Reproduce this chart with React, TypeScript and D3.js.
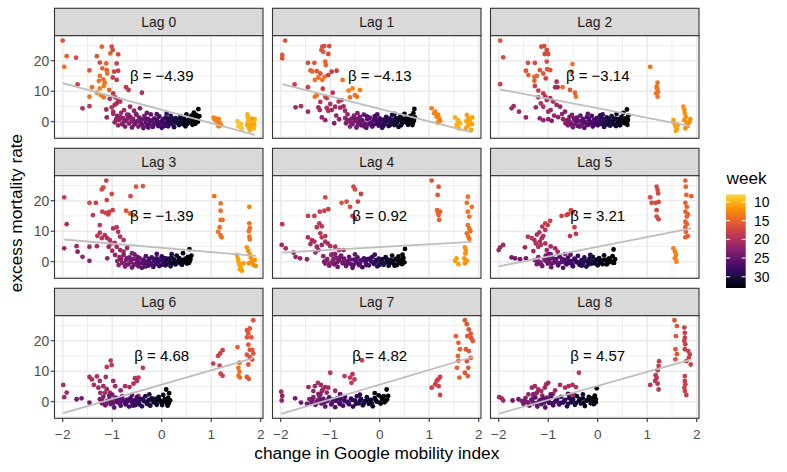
import React from "react";
import * as d3 from "d3";

// [mobility change, excess mortality rate, week]
const lag0 = [
  [-2.0,26.6,16],[-1.92,21.5,15],[-1.97,18.0,14],[-1.73,21.0,17],[-1.7,12.2,18],[-1.46,16.8,16],[-1.46,8.2,14],[-1.6,4.4,20],[-1.46,5.1,19],[-1.41,11.3,14],[-1.31,21.5,16],[-1.25,19.4,17],[-1.21,24.6,15],[-1.01,24.6,17],[-0.99,23.5,17],[-1.04,22.4,15],[-1.12,19.1,15],[-1.11,16.9,15],[-1.1,15.8,14],[-1.25,15.0,14],[-1.27,13.4,14],[-1.18,13.9,14],[-1.25,10.9,13],[-1.17,11.7,13],[-1.31,9.5,13],[-1.23,8.7,13],[-1.17,8.0,14],[-0.88,22.1,17],[-0.91,19.1,18],[-0.96,16.4,18],[-0.88,16.7,18],[-0.99,14.5,18],[-0.91,13.7,19],[-1.06,10.4,15],[-0.98,9.3,19],[-0.94,8.0,20],[-0.88,7.3,20],[-0.84,6.6,20],[-0.91,6.0,21],[-0.72,11.3,19],[-0.67,10.4,19],[-0.4,9.5,20],[-1.12,4.0,21],[-1.01,4.7,20],[-0.98,3.3,20],[-1.11,1.4,22],[-0.92,0.8,22],[-0.84,1.1,22],[-0.57,0.3,13],[-0.76,3.8,21],[-0.64,4.9,21],[-0.56,3.6,22],[-0.67,2.2,23],[-0.51,2.2,22],[-0.44,4.4,23],[-1.05,7.5,20],[-0.95,5.5,20],[-1.15,12.8,14],[-1.2,17.5,15],
  [-0.98,2.6,21],[-0.95,-0.2,22],[-0.9,1.9,22],[-0.86,0.5,22],[-0.82,2.9,21],[-0.8,-0.8,23],[-0.78,1.2,22],[-0.74,-1.6,23],[-0.72,0.4,23],[-0.7,2.3,22],[-0.66,-0.6,23],[-0.63,1.5,23],[-0.6,-1.9,24],[-0.58,0.9,23],[-0.55,-0.9,24],[-0.52,2.6,23],[-0.5,0.1,24],[-0.47,-1.6,24],[-0.45,1.3,24],[-0.42,-0.5,25],[-0.4,0.7,25],[-0.37,-2.1,25],[-0.35,1.9,24],[-0.32,-0.3,25],[-0.3,-1.3,25],[-0.28,0.9,26],[-0.25,-0.8,26],[-0.22,2.4,25],[-0.2,0.2,26],[-0.18,-1.7,26],[-0.15,1.1,26],[-0.12,-0.5,27],[-0.1,0.6,27],[-0.07,-1.4,27],[-0.05,1.7,27],[-0.02,-0.2,28],[0,-2,28],[0.03,0.8,28],[0.05,-0.9,28],[0.08,1.4,28],[0.1,-0.3,29],[0.13,-1.5,29],[0.15,0.5,29],[0.18,1.9,29],[0.2,-0.7,30],[0.23,0.2,30],[0.25,-1.8,30],[0.28,1.2,30],[0.3,-0.4,30],[0.33,0.7,31],[0.35,-1.1,31],[0.38,1.8,31],[0.4,0.1,31],[0.43,-0.8,31],[0.45,1.0,32],[0.48,-1.5,32],[0.5,2.4,32],[0.52,0.4,32],[0.55,-0.3,32],[0.58,1.4,32],[0.6,0.6,33],[0.62,-1.0,32],[0.65,3.0,33],[0.67,1.1,33],[0.7,-0.2,33],[0.72,0.9,33],[0.74,4.1,33],[0.76,1.8,33],[0.7,2.2,33],[0.6,2.0,33],
  [-0.88,-1.2,22],[-0.84,1.6,22],[-0.76,0.0,23],[-0.69,1.0,23],[-0.61,0.1,23],[-0.53,-0.4,24],[-0.46,0.3,24],[-0.39,-1.0,25],[-0.33,0.8,25],[-0.27,-1.9,26],[-0.23,0.4,26],[-0.16,-1.0,26],[-0.09,0.2,27],[-0.04,-0.9,27],[0.01,0.3,28],[0.06,-1.4,28],[0.11,0.9,29],[0.16,-0.6,29],[0.21,1.1,30],[0.26,-0.2,30],[0.31,0.3,30],[0.36,-0.5,31],[0.41,1.0,31],[0.46,-0.2,32],[0.51,-0.8,32],[0.56,0.8,32],[0.63,0.2,33],[0.68,-0.7,33],[0.73,0.0,33],[0.66,1.9,33],[-0.3,2.9,24],[-0.1,2.5,26],[0.1,2.7,28],
  [1.05,1.3,13],[1.1,1.0,13],[1.15,0.9,13],[1.12,0.0,13],[1.18,-0.5,13],[1.2,-1.2,13],[1.15,-1.5,13],[1.08,0.5,13],[1.53,0.2,9],[1.56,-0.5,9],[1.58,-1.2,9],[1.6,-1.8,9],[1.62,-2.4,9],[1.55,-1.5,9],[1.6,-0.8,9],[1.73,2.4,10],[1.74,1.5,10],[1.75,0.6,10],[1.74,-0.3,10],[1.73,-1.2,11],[1.76,-2.0,10],[1.78,-2.8,10],[1.8,-1.5,11],[1.83,-0.5,11],[1.85,0.3,10],[1.87,-1.0,11],[1.88,0.8,10],[1.82,1.0,11],[1.86,-2.2,10],
];

const lag1 = [
  [-1.91,26.6,16],[-1.97,21.9,16],[-1.97,20.8,16],[-1.72,12.2,18],[-1.45,19.3,17],[-1.32,19.3,16],[-1.45,11.3,18],[-1.4,16.8,15],[-1.36,16.5,15],[-1.27,16.6,16],[-1.2,15.8,16],[-1.16,24.6,17],[-1.12,24.8,17],[-1.18,23.5,16],[-1.14,22.9,16],[-1.02,24.8,17],[-1.04,22.2,17],[-1.1,19.7,15],[-1.09,18.6,15],[-1.31,13.7,14],[-1.24,14.5,14],[-1.16,13.7,14],[-1.11,14.8,14],[-1.04,15.3,18],[-0.97,16.4,18],[-0.87,16.7,18],[-1.27,8.7,14],[-1.1,8.2,18],[-1.07,7.7,18],[-1.31,8.2,14],[-0.83,6.6,19],[-0.77,7.1,19],[-0.75,13.7,14],[-0.63,10.2,13],[-0.55,10.9,13],[-0.5,8.7,14],[-0.4,10.4,13],[-0.6,8.0,14],[-0.46,8.2,14],[-1.7,4.7,21],[-1.59,5.1,20],[-1.45,3.3,21],[-1.24,4.7,21],[-1.21,3.8,21],[-1.07,4.5,20],[-1.04,3.6,20],[-1.0,5.8,20],[-1.17,1.4,22],[-1.1,0.5,22],[-0.97,3.8,21],[-0.9,4.9,21],[-0.8,4.6,21],[-0.73,5.0,21],[-0.7,3.6,21],[-1.2,6.5,19],[-1.15,10.8,18],[-0.95,9.5,19],[-0.88,2.0,22],[-0.82,0.8,22],[-0.92,-0.5,23],
  [-0.7,1.2,22],[-0.68,-0.5,23],[-0.65,2.4,22],[-0.62,0.3,23],[-0.6,-1.6,23],[-0.57,1.0,23],[-0.55,-0.8,24],[-0.52,2.0,23],[-0.5,0.2,24],[-0.47,-1.9,24],[-0.45,0.9,24],[-0.42,-0.4,25],[-0.4,1.6,24],[-0.37,-1.2,25],[-0.35,0.4,25],[-0.32,2.3,25],[-0.3,-0.6,25],[-0.27,-2.0,26],[-0.25,0.8,26],[-0.22,-0.9,26],[-0.2,1.3,26],[-0.17,-0.2,26],[-0.15,-1.6,27],[-0.12,0.6,27],[-0.1,1.8,27],[-0.07,-0.7,27],[-0.05,0.2,28],[-0.02,-1.3,28],[0,1.1,28],[0.03,-0.3,28],[0.05,-2.0,28],[0.08,0.7,29],[0.1,-0.9,29],[0.13,1.6,29],[0.15,0.1,29],[0.18,-1.4,30],[0.2,0.9,30],[0.23,-0.5,30],[0.25,2.2,30],[0.28,0.3,30],[0.3,-1.1,31],[0.33,1.2,31],[0.35,-0.2,31],[0.38,-1.7,31],[0.4,0.6,31],[0.42,1.9,32],[0.45,-0.6,32],[0.48,0.9,32],[0.5,2.6,32],[0.52,-0.1,32],[0.55,1.3,33],[0.57,-1.0,33],[0.6,0.4,33],[0.62,1.9,33],[0.65,0.8,33],[0.67,-0.4,33],[0.7,4.2,33],[0.68,2.8,33],[0.71,1.4,33],
  [-0.66,0.6,23],[-0.58,-0.3,23],[-0.51,1.2,24],[-0.44,-1.0,24],[-0.38,0.3,25],[-0.31,-1.6,25],[-0.26,1.7,26],[-0.19,-0.5,26],[-0.13,-1.1,27],[-0.08,0.8,27],[-0.03,-0.3,28],[0.02,0.5,28],[0.07,-1.4,29],[0.12,0.0,29],[0.17,1.0,30],[0.22,-1.0,30],[0.27,0.6,30],[0.32,-0.5,31],[0.37,0.9,31],[0.43,-1.2,32],[0.47,0.2,32],[0.53,0.8,32],[0.58,-0.4,33],[0.63,0.9,33],[0.66,-1.1,33],[0.69,0.3,33],[-0.45,2.8,23],[-0.05,2.4,27],[0.3,2.6,30],
  [1.05,4.4,13],[1.12,3.3,13],[1.18,2.2,13],[1.2,1.1,13],[1.22,0.3,13],[1.17,-0.3,13],[1.15,1.6,13],[1.1,2.8,13],[1.52,1.4,10],[1.58,0.5,10],[1.56,-0.8,10],[1.6,-2.2,10],[1.62,-0.5,10],[1.55,-1.6,10],[1.76,2.2,11],[1.79,1.1,11],[1.8,0,11],[1.78,-1.4,11],[1.85,-2.7,11],[1.86,-0.8,11],[1.74,-2.2,11],[1.87,1.4,11],[1.82,0.5,11],[1.75,0.2,11],
];

const lag2 = [
  [-1.97,26.6,16],[-1.91,21.1,17],[-1.97,12.3,18],[-1.7,5.1,21],[-1.74,4.4,21],[-1.59,3.3,21],[-1.45,1.4,22],[-1.41,19.3,17],[-1.27,19.3,17],[-1.45,16.7,16],[-1.4,15.3,15],[-1.28,14.7,15],[-1.14,24.6,17],[-1.08,24.8,17],[-1.03,23.5,17],[-1.07,22.2,17],[-1.0,22.2,17],[-1.03,19.7,17],[-1.17,16.9,16],[-1.1,15.8,16],[-1.02,17.2,16],[-0.96,16.9,16],[-1.28,13.4,15],[-1.23,15.0,15],[-1.05,14.2,18],[-1.27,11.7,18],[-1.2,10.2,18],[-1.1,9.3,19],[-1.06,8.2,20],[-1.03,7.1,20],[-0.96,7.7,20],[-0.9,6.6,20],[-0.83,5.5,21],[-1.25,4.7,21],[-1.1,4.9,20],[-1.0,3.3,21],[-1.17,1.1,22],[-1.1,0.5,22],[-1.0,0.8,22],[-0.93,0.3,23],[-0.86,11.3,21],[-0.81,11.3,21],[-0.83,13.1,20],[-0.71,11.3,14],[-0.51,18.9,14],[-0.53,16.4,14],[-0.44,8.2,14],[-0.56,10.4,16],[-0.46,9.5,15],[-0.76,4.9,21],[-0.66,3.3,23],[-1.15,6.0,20],[-0.95,3.8,21],[-0.88,2.0,22],[-0.8,1.5,22],[-0.72,2.5,22],[-1.2,8.0,19],
  [-0.62,0.5,23],[-0.6,-1.2,23],[-0.57,1.6,23],[-0.55,-0.3,24],[-0.52,2.2,23],[-0.5,-1.8,24],[-0.47,0.6,24],[-0.45,-0.7,24],[-0.42,1.3,25],[-0.4,-1.4,25],[-0.37,0.2,25],[-0.35,2.0,25],[-0.32,-0.9,25],[-0.3,0.9,26],[-0.27,-2.0,26],[-0.25,-0.2,26],[-0.22,1.5,26],[-0.2,-1.1,26],[-0.17,0.4,27],[-0.15,-0.6,27],[-0.12,1.9,27],[-0.1,-1.6,27],[-0.07,0.7,27],[-0.05,-0.4,28],[-0.02,1.2,28],[0,-1.2,28],[0.03,0.1,28],[0.05,2.1,28],[0.08,-0.8,29],[0.1,0.8,29],[0.13,-1.7,29],[0.15,-0.1,29],[0.18,1.4,30],[0.2,-0.6,30],[0.23,0.5,30],[0.25,-1.3,30],[0.28,1.8,30],[0.3,0.2,31],[0.33,-0.9,31],[0.35,1.0,31],[0.38,2.5,31],[0.4,-0.3,31],[0.42,0.8,32],[0.45,-1.2,32],[0.48,1.6,32],[0.5,0.3,32],[0.52,2.9,32],[0.55,-0.5,33],[0.57,1.1,33],[0.6,0.2,33],[0.59,4.0,33],[0.62,2.0,33],[0.6,-1.0,33],
  [-0.58,0.2,23],[-0.53,-0.9,24],[-0.48,1.1,24],[-0.41,0.1,25],[-0.36,-1.6,25],[-0.29,0.3,26],[-0.23,-0.7,26],[-0.18,1.0,27],[-0.13,-0.2,27],[-0.08,-1.1,27],[-0.03,0.3,28],[0.02,-0.5,28],[0.07,1.3,29],[0.12,0.3,29],[0.17,-1.0,30],[0.22,0.9,30],[0.27,-0.4,30],[0.32,0.6,31],[0.37,-1.4,31],[0.43,0.2,32],[0.47,-0.5,32],[0.53,1.0,32],[0.58,-0.3,33],[0.61,0.7,33],[-0.2,2.6,25],[0.1,2.4,28],[-0.65,-0.5,23],[-0.7,0.8,22],
  [1.06,18.0,14],[1.21,12.8,14],[1.2,10.9,14],[1.18,9.3,14],[1.21,8.2,14],[1.22,9.8,14],[1.19,11.5,14],[1.53,0.5,11],[1.55,-0.6,11],[1.57,-1.5,11],[1.6,-2.4,11],[1.62,-1.0,11],[1.58,-3.0,11],[1.73,4.9,12],[1.75,3.8,12],[1.76,2.7,12],[1.78,1.6,12],[1.75,0.5,12],[1.8,-0.5,12],[1.82,-1.4,12],[1.85,-0.2,12],[1.87,0.8,12],[1.77,-2.2,12],
];

const lag3 = [
  [-1.97,21.1,18],[-1.92,12.3,20],[-1.97,4.4,21],[-1.72,5.1,21],[-1.7,3.3,23],[-1.6,1.6,22],[-1.46,0.3,23],[-1.46,19.3,17],[-1.33,19.3,18],[-1.39,15.3,19],[-1.46,4.9,21],[-1.31,5.1,21],[-1.25,9.5,19],[-1.21,7.7,19],[-1.21,23.7,17],[-1.18,24.4,17],[-1.12,26.6,18],[-1.11,20.2,18],[-1.01,22.2,17],[-1.2,16.4,18],[-1.13,16.0,18],[-1.06,16.3,18],[-0.99,16.9,18],[-1.08,15.5,18],[-0.98,10.9,20],[-0.91,11.3,19],[-1.25,12.0,19],[-1.15,8.7,20],[-1.1,7.7,20],[-1.05,7.1,20],[-1.02,6.0,20],[-1.07,4.9,21],[-0.88,9.8,20],[-0.84,8.2,20],[-0.77,7.1,20],[-1.0,3.6,21],[-0.94,2.2,22],[-1.1,1.1,22],[-0.72,16.7,16],[-0.63,21.5,17],[-0.52,24.6,16],[-0.38,24.8,16],[-0.64,15.8,15],[-0.57,15.3,15],[-0.91,4.9,21],[-0.84,3.8,21],[-0.77,3.3,21],[-0.7,4.5,21],[-1.3,8.5,19],[-0.95,6.2,20],[-0.82,1.0,22],
  [-0.9,0.2,22],[-0.87,-1.1,23],[-0.85,1.5,22],[-0.8,-0.4,23],[-0.77,2.2,23],[-0.74,-1.6,23],[-0.72,0.6,23],[-0.68,-0.9,24],[-0.65,1.4,24],[-0.62,-0.2,24],[-0.6,-1.9,24],[-0.57,0.9,24],[-0.55,2.4,24],[-0.52,-0.7,25],[-0.5,0.4,25],[-0.47,-1.5,25],[-0.45,1.2,25],[-0.42,-0.3,25],[-0.4,-2.0,26],[-0.37,0.7,26],[-0.35,-0.9,26],[-0.32,1.8,26],[-0.3,0.0,26],[-0.27,-1.3,27],[-0.25,0.9,27],[-0.22,-0.5,27],[-0.2,1.4,27],[-0.17,-1.7,27],[-0.15,0.3,28],[-0.12,-0.8,28],[-0.1,1.1,28],[-0.07,-0.1,28],[-0.05,-1.4,28],[-0.02,0.6,29],[0,1.7,29],[0.03,-0.6,29],[0.05,0.2,29],[0.08,-1.2,30],[0.1,1.0,30],[0.13,-0.3,30],[0.15,0.5,30],[0.18,-1.5,30],[0.2,1.5,31],[0.23,-0.2,31],[0.25,0.7,31],[0.28,-0.9,31],[0.3,2.0,31],[0.33,0.1,32],[0.35,1.2,32],[0.38,-0.6,32],[0.4,0.6,32],[0.43,2.8,32],[0.45,-0.1,33],[0.48,1.0,33],[0.5,0.3,33],[0.53,1.6,33],[0.55,-0.4,33],[0.56,4.1,33],[0.58,0.9,33],[0.6,2.0,33],
  [-0.83,0.7,23],[-0.76,-0.6,23],[-0.7,1.2,24],[-0.63,0.4,24],[-0.56,-1.0,24],[-0.49,1.6,25],[-0.44,-0.6,25],[-0.38,0.2,26],[-0.33,-1.6,26],[-0.26,0.5,27],[-0.21,-0.9,27],[-0.16,0.9,27],[-0.11,0.0,28],[-0.04,0.6,28],[0.01,-1.0,29],[0.06,1.2,29],[0.11,-0.6,30],[0.16,1.0,30],[0.21,-0.6,31],[0.26,0.2,31],[0.31,-0.3,31],[0.36,0.5,32],[0.41,-1.0,32],[0.46,0.7,33],[0.51,-0.6,33],[0.57,0.3,33],[-0.6,2.8,23],[-0.1,2.6,27],[0.2,2.5,29],
  [1.06,21.5,14],[1.19,19.1,14],[1.19,16.7,14],[1.19,13.7,14],[1.23,13.7,14],[1.17,11.3,14],[1.19,8.7,14],[1.21,8.0,14],[1.14,9.8,14],[1.77,18.0,13],[1.77,12.6,14],[1.78,11.0,14],[1.76,10.0,14],[1.77,8.2,14],[1.78,7.3,14],[1.52,2.2,11],[1.54,1.0,11],[1.55,0,11],[1.57,-1.0,11],[1.6,-2.0,11],[1.62,-3.0,11],[1.65,-0.5,11],[1.58,-2.5,11],[1.72,4.7,12],[1.75,3.5,12],[1.78,2.4,12],[1.8,1.2,12],[1.82,0.0,12],[1.85,-1.0,12],[1.88,0.6,12],[1.9,-1.4,12],[1.76,-0.5,12],
];

const lag4 = [
  [-1.97,12.3,19],[-1.98,5.5,21],[-1.9,4.4,21],[-1.74,3.0,23],[-1.7,1.6,22],[-1.61,1.1,22],[-1.47,0.8,22],[-1.45,15.0,18],[-1.32,15.0,18],[-1.21,16.4,18],[-1.12,16.7,18],[-1.04,17.2,18],[-1.1,21.1,17],[-1.27,11.3,19],[-1.22,12.6,19],[-1.17,11.6,19],[-1.45,8.0,20],[-1.37,7.1,20],[-1.32,6.6,20],[-1.2,9.3,19],[-1.17,8.0,19],[-1.1,8.4,19],[-1.27,4.9,21],[-1.24,3.8,21],[-1.17,5.5,21],[-1.1,6.6,20],[-1.05,6.0,20],[-1.0,5.1,20],[-1.12,0,24],[-0.77,19.3,16],[-0.67,19.7,17],[-0.6,18.0,17],[-0.53,24.6,17],[-0.5,23.7,17],[-0.38,22.2,18],[-0.44,19.7,18],[-0.55,15.0,18],[-0.5,14.2,18],[-0.9,4.9,20],[-0.82,3.8,20],[-0.73,3.8,21],[-1.3,3.0,21],[-0.95,2.5,22],[-1.4,5.8,20],
  [-1.14,1.8,22],[-1.1,-0.6,23],[-1.06,0.8,23],[-1.02,-1.3,23],[-0.98,2.2,22],[-0.95,0.2,23],[-0.92,-0.9,24],[-0.88,1.3,23],[-0.85,-1.7,24],[-0.82,0.5,24],[-0.78,2.0,24],[-0.75,-0.5,24],[-0.72,1.0,25],[-0.68,-1.4,25],[-0.65,0.1,25],[-0.62,1.6,25],[-0.58,-0.8,25],[-0.55,-2.0,26],[-0.52,0.7,26],[-0.48,-0.3,26],[-0.45,1.4,26],[-0.42,-1.1,26],[-0.38,0.4,27],[-0.35,-1.8,27],[-0.32,1.1,27],[-0.28,-0.4,27],[-0.25,0.8,28],[-0.22,-1.2,28],[-0.18,0.2,28],[-0.15,1.6,28],[-0.12,-0.7,29],[-0.08,0.5,29],[-0.05,-1.5,29],[-0.02,1.0,29],[0.02,-0.2,30],[0.05,0.8,30],[0.08,-1.0,30],[0.12,1.5,31],[0.15,0.0,31],[0.18,-1.3,31],[0.22,0.6,31],[0.25,2.0,32],[0.28,-0.5,32],[0.32,0.9,32],[0.35,-1.1,32],[0.38,1.7,33],[0.42,0.3,33],[0.45,-0.8,33],[0.48,1.2,33],[0.51,4.2,33],[0.5,-0.2,33],[0.46,2.3,33],
  [-1.08,0.3,23],[-1.0,-0.5,23],[-0.93,1.0,23],[-0.86,-0.2,24],[-0.8,1.4,24],[-0.73,0.2,24],[-0.66,-0.7,25],[-0.6,0.7,25],[-0.53,-1.1,26],[-0.47,0.3,26],[-0.4,-0.6,26],[-0.34,0.5,27],[-0.27,-1.1,27],[-0.2,1.0,28],[-0.14,-0.2,28],[-0.07,0.0,29],[0.0,-1.0,29],[0.04,0.3,30],[0.1,-0.4,30],[0.14,0.9,31],[0.2,-0.6,31],[0.26,0.3,32],[0.3,-1.3,32],[0.36,0.4,32],[0.4,-0.4,33],[0.44,0.6,33],[-0.9,2.6,22],[-0.5,2.4,25],[-0.1,2.3,28],
  [1.05,26.6,16],[1.19,24.6,16],[1.17,21.9,16],[1.16,16.9,15],[1.22,16.4,15],[1.19,15.3,15],[1.2,13.7,15],[1.18,15.9,15],[1.78,21.3,14],[1.86,18.0,14],[1.76,19.3,14],[1.78,16.4,14],[1.81,14.8,14],[1.78,12.0,14],[1.81,10.9,14],[1.76,9.3,14],[1.79,8.2,14],[1.81,7.5,14],[1.83,10.0,14],[1.72,4.7,12],[1.73,2.7,12],[1.71,1.1,12],[1.76,0.3,12],[1.72,-0.5,12],[1.74,3.6,12],[1.55,1.1,11],[1.52,0.3,11],[1.59,-0.8,11],
];

const lag5 = [
  [-1.97,4.7,21],[-1.91,5.5,21],[-2.0,3.8,21],[-1.74,1.4,24],[-1.67,1.1,24],[-1.57,0.8,24],[-1.45,1.1,24],[-1.47,4.7,21],[-1.41,8.2,19],[-1.33,7.7,19],[-1.28,7.1,20],[-1.25,6.0,20],[-1.2,4.9,20],[-1.17,6.6,20],[-1.13,7.7,20],[-1.23,8.9,20],[-1.18,9.6,20],[-1.1,8.4,20],[-1.06,6.0,20],[-1.03,3.8,21],[-1.12,11.5,19],[-1.06,10.4,19],[-1.01,12.0,19],[-0.96,13.4,18],[-1.06,12.6,18],[-0.86,4.4,21],[-0.81,3.3,21],[-0.73,15.0,18],[-0.63,15.3,18],[-0.6,15.6,18],[-0.54,16.9,17],[-0.51,16.1,17],[-0.56,8.4,19],[-0.44,9.1,19],[-0.47,11.3,18],[-0.66,2.5,22],[-1.3,3.5,21],[-1.15,5.5,20],[-0.95,5.0,21],[-1.0,2.6,22],
  [-1.27,0.5,23],[-1.23,-0.8,24],[-1.2,1.5,23],[-1.16,-0.2,24],[-1.12,-1.4,24],[-1.08,0.9,24],[-1.05,2.0,23],[-1.01,-0.6,25],[-0.98,0.4,25],[-0.94,-1.8,25],[-0.91,1.2,25],[-0.88,-0.3,25],[-0.84,0.8,26],[-0.8,-1.2,26],[-0.77,1.7,26],[-0.73,-0.1,26],[-0.7,-2.0,26],[-0.67,0.6,27],[-0.63,-0.9,27],[-0.6,1.3,27],[-0.57,-0.4,27],[-0.53,0.2,28],[-0.5,-1.5,28],[-0.47,1.0,28],[-0.43,-0.2,28],[-0.4,1.9,28],[-0.37,-1.0,29],[-0.33,0.5,29],[-0.3,-0.6,29],[-0.27,1.4,29],[-0.23,-1.6,30],[-0.2,0.1,30],[-0.17,0.9,30],[-0.13,-0.7,30],[-0.1,1.6,31],[-0.07,-0.3,31],[-0.03,0.7,31],[0,-1.2,31],[0.03,1.2,32],[0.07,0.2,32],[0.1,-0.8,32],[0.13,2.1,32],[0.17,0.6,33],[0.2,-0.5,33],[0.23,1.1,33],[0.27,0.0,33],[0.3,1.8,33],[0.32,4.0,33],[0.35,0.8,33],[0.33,-0.4,33],
  [-1.22,0.6,24],[-1.14,-0.9,24],[-1.06,0.4,24],[-1.0,1.5,25],[-0.93,-0.6,25],[-0.86,0.3,25],[-0.79,-0.5,26],[-0.72,0.9,26],[-0.65,-0.4,27],[-0.59,0.0,27],[-0.52,-0.8,28],[-0.45,0.5,28],[-0.39,-0.2,29],[-0.32,-1.3,29],[-0.25,0.2,29],[-0.19,-0.9,30],[-0.12,0.3,30],[-0.05,-0.6,31],[0.01,0.5,31],[0.05,-0.3,32],[0.12,0.6,32],[0.18,-0.9,33],[0.25,0.4,33],[0.3,-0.3,33],[-0.95,2.5,24],[-0.55,2.3,26],[-0.15,2.2,29],
  [1.06,21.1,17],[1.09,19.3,17],[1.19,24.6,17],[1.21,23.5,17],[1.22,22.4,17],[1.17,19.3,17],[1.23,19.6,17],[1.19,16.9,17],[1.19,14.8,17],[1.23,13.9,17],[1.77,26.6,15],[1.78,24.6,15],[1.79,21.9,15],[1.89,21.5,15],[1.77,19.3,15],[1.8,18.0,15],[1.77,16.4,15],[1.82,15.6,15],[1.8,14.8,15],[1.77,13.1,15],[1.8,12.3,15],[1.77,11.3,15],[1.78,9.8,15],[1.77,8.0,15],[1.82,8.4,15],[1.53,4.4,13],[1.56,3.3,13],[1.58,2.2,13],[1.56,1.1,13],[1.59,0.0,13],
];

const lag6 = [
  [-1.99,5.5,20],[-1.97,1.5,21],[-1.92,3.0,21],[-1.72,0.8,24],[-1.62,1.1,24],[-1.46,-0.3,24],[-1.46,8.1,20],[-1.41,7.3,20],[-1.37,5.5,20],[-1.31,8.3,20],[-1.25,6.8,20],[-1.28,4.6,21],[-1.18,5.1,21],[-1.13,8.1,20],[-1.11,4.1,21],[-1.15,2.9,21],[-1.24,2.9,21],[-1.11,11.4,19],[-1.03,13.5,19],[-1.01,12.0,19],[-0.98,6.8,21],[-0.94,5.1,21],[-0.83,3.7,22],[-0.74,5.1,20],[-0.65,4.8,20],[-0.57,5.9,20],[-0.54,7.7,20],[-0.5,6.8,20],[-0.47,7.9,19],[-0.38,11.1,19],[-0.47,1.9,19],[-1.05,3.0,21],
  [-1.25,0.8,23],[-1.21,-0.5,24],[-1.18,1.6,23],[-1.14,-1.2,24],[-1.1,0.3,24],[-1.06,1.9,24],[-1.03,-0.8,25],[-1.0,0.6,25],[-0.96,-1.9,25],[-0.93,1.3,25],[-0.9,-0.2,26],[-0.86,0.9,26],[-0.83,-1.3,26],[-0.8,1.7,26],[-0.76,0.1,26],[-0.73,-0.9,27],[-0.7,0.7,27],[-0.66,-1.6,27],[-0.63,1.2,27],[-0.6,-0.3,28],[-0.56,0.4,28],[-0.53,-1.1,28],[-0.5,1.5,28],[-0.46,-0.5,29],[-0.43,0.8,29],[-0.4,-1.5,29],[-0.36,0.2,29],[-0.33,1.8,30],[-0.3,-0.7,30],[-0.26,0.6,30],[-0.23,-1.3,30],[-0.2,1.1,31],[-0.16,-0.2,31],[-0.13,0.9,31],[-0.1,-1.0,31],[-0.06,1.6,32],[-0.03,0.3,32],[0,-0.6,32],[0.03,2.2,32],[0.06,0.8,33],[0.09,4.0,33],[0.1,-0.4,33],[0.13,1.3,33],[0.15,2.8,33],[0.17,0.4,33],[0.12,-1.3,33],
  [-1.2,0.2,24],[-1.12,-0.6,24],[-1.05,0.6,25],[-0.98,-0.4,25],[-0.91,0.6,26],[-0.84,-0.5,26],[-0.78,0.5,26],[-0.71,-0.3,27],[-0.64,0.4,27],[-0.58,-1.3,28],[-0.51,0.3,28],[-0.45,-0.9,29],[-0.38,0.9,29],[-0.31,-0.1,30],[-0.25,-1.0,30],[-0.18,0.5,31],[-0.11,-0.4,31],[-0.05,0.5,32],[0.01,-1.1,32],[0.05,0.2,33],[0.11,0.8,33],[0.14,-0.6,33],[-1.0,2.3,24],[-0.6,2.2,26],[-0.25,2.4,29],
  [1.04,12.5,18],[1.14,15.0,18],[1.18,15.8,18],[1.23,16.9,18],[1.17,11.8,18],[1.19,9.2,18],[1.23,8.5,18],[1.53,17.9,15],[1.57,12.8,14],[1.55,11.1,14],[1.57,9.8,14],[1.58,7.9,14],[1.55,8.5,14],[1.72,23.5,16],[1.75,22.4,16],[1.78,24.0,16],[1.81,21.1,16],[1.72,21.1,16],[1.85,26.7,16],[1.75,18.7,16],[1.78,17.0,16],[1.83,17.0,16],[1.72,15.4,16],[1.78,14.6,16],[1.83,13.8,16],[1.75,12.2,16],[1.72,8.1,16],[1.76,7.5,16],[1.85,15.8,16],
];

const lag7 = [
  [-1.99,3.3,21],[-1.97,1.9,22],[-1.98,0.4,22],[-1.71,1.1,24],[-1.59,-0.3,24],[-1.47,-0.7,24],[-1.44,4.8,21],[-1.31,5.1,21],[-1.19,5.5,21],[-1.1,4.8,21],[-1.04,4.6,21],[-1.34,3.5,22],[-1.24,2.6,22],[-1.17,3.5,22],[-1.07,3.0,22],[-1.0,9.5,19],[-0.71,8.4,19],[-0.6,7.9,19],[-0.55,9.0,19],[-0.51,7.3,19],[-0.57,6.2,19],[-0.36,13.6,18],[-0.9,3.6,21],[-0.8,2.5,22],[-1.25,6.2,20],[-1.15,4.0,21],
  [-1.42,0.8,23],[-1.38,-0.4,24],[-1.34,1.5,23],[-1.3,-1.0,24],[-1.26,0.4,24],[-1.22,1.9,24],[-1.18,-0.6,25],[-1.14,0.9,25],[-1.1,-1.6,25],[-1.06,0.2,25],[-1.02,1.4,26],[-0.98,-0.9,26],[-0.94,0.6,26],[-0.9,-1.8,26],[-0.86,1.1,27],[-0.82,-0.3,27],[-0.78,0.8,27],[-0.74,-1.3,27],[-0.7,1.6,28],[-0.66,0.0,28],[-0.62,-0.8,28],[-0.58,1.0,28],[-0.54,-1.6,29],[-0.5,0.4,29],[-0.46,1.8,29],[-0.42,-0.5,29],[-0.38,0.9,30],[-0.34,-1.2,30],[-0.3,0.2,30],[-0.26,1.5,31],[-0.22,-0.7,31],[-0.18,0.6,31],[-0.14,-1.5,31],[-0.1,1.2,32],[-0.06,0.0,32],[-0.02,2.1,32],[0.02,-0.6,32],[0.05,0.9,33],[0.08,1.8,33],[0.1,-0.2,33],[0.14,4.0,33],[0.15,0.7,33],[0.17,1.9,33],
  [-1.36,0.5,24],[-1.28,-0.5,24],[-1.2,0.6,25],[-1.12,-0.3,25],[-1.04,0.7,26],[-0.96,-0.3,26],[-0.88,0.3,27],[-0.8,-0.8,27],[-0.72,0.3,28],[-0.64,-0.3,28],[-0.56,0.6,29],[-0.48,-0.7,29],[-0.4,0.3,30],[-0.32,-0.5,30],[-0.24,0.5,31],[-0.16,-0.6,31],[-0.08,0.5,32],[0.0,-0.3,32],[0.04,1.3,33],[0.12,0.4,33],[-1.2,2.4,23],[-0.8,2.3,25],[-0.4,2.3,28],[-0.1,2.8,31],
  [1.05,4.6,18],[1.12,5.7,18],[1.18,7.3,18],[1.22,8.1,18],[1.15,6.8,18],[1.19,5.1,18],[1.22,2.2,18],[1.54,21.5,15],[1.59,19.3,15],[1.62,17.2,15],[1.58,15.0,15],[1.59,13.4,15],[1.56,11.1,15],[1.61,7.9,15],[1.72,26.7,16],[1.76,25.4,16],[1.8,23.7,16],[1.84,22.3,16],[1.77,21.5,16],[1.85,20.8,16],[1.88,19.9,16],[1.74,17.2,16],[1.8,16.6,16],[1.84,14.4,16],[1.76,13.3,16],[1.79,11.1,16],[1.72,9.5,16],[1.78,8.4,16],
];

const lag8 = [
  [-1.99,1.5,21],[-1.94,1.1,21],[-1.91,0.4,21],[-1.72,0.4,24],[-1.6,0.8,24],[-1.47,0.0,25],[-1.33,4.6,21],[-1.27,5.1,21],[-1.2,4.0,21],[-1.14,3.5,21],[-1.07,4.6,21],[-1.04,5.7,21],[-1.0,6.2,21],[-1.4,2.4,22],[-1.3,1.9,22],[-1.23,2.9,22],[-1.03,1.3,24],[-0.76,5.5,20],[-0.66,4.6,20],[-0.59,5.1,20],[-0.51,5.5,20],[-0.44,4.8,20],[-0.86,3.7,21],[-0.9,2.6,21],[-0.38,9.5,19],[-0.54,2.2,20],[-0.47,2.2,20],[-1.12,2.0,22],
  [-1.54,0.3,23],[-1.5,-0.7,24],[-1.46,1.2,23],[-1.42,-0.2,24],[-1.38,-1.3,24],[-1.34,0.7,25],[-1.3,-0.5,25],[-1.26,1.4,25],[-1.22,-1.6,25],[-1.18,0.2,26],[-1.14,-0.8,26],[-1.1,1.0,26],[-1.06,-1.9,26],[-1.02,0.5,27],[-0.98,-0.4,27],[-0.94,1.5,27],[-0.9,-1.2,27],[-0.86,0.0,28],[-0.82,0.9,28],[-0.78,-0.9,28],[-0.74,1.6,28],[-0.7,-0.3,29],[-0.66,0.6,29],[-0.62,-1.5,29],[-0.58,1.2,29],[-0.54,-0.2,30],[-0.5,0.8,30],[-0.46,-1.0,30],[-0.42,1.8,31],[-0.38,0.3,31],[-0.34,-0.6,31],[-0.3,1.1,31],[-0.26,-1.4,32],[-0.22,0.4,32],[-0.18,1.6,32],[-0.14,-0.5,32],[-0.1,0.9,33],[-0.06,2.0,33],[-0.04,-0.2,33],[-0.02,4.4,33],[-0.05,0.6,33],[-0.12,1.1,33],[-0.08,-0.8,33],
  [-1.48,0.3,24],[-1.4,-0.4,24],[-1.32,0.6,25],[-1.24,-0.5,25],[-1.16,0.6,26],[-1.08,-0.3,26],[-1.0,0.5,27],[-0.92,-0.5,27],[-0.84,0.4,28],[-0.76,-0.4,28],[-0.68,0.2,29],[-0.6,-0.7,29],[-0.52,0.3,30],[-0.44,-0.4,30],[-0.36,0.8,31],[-0.28,-0.3,31],[-0.2,0.6,32],[-0.12,-0.2,32],[-0.04,0.8,33],[-1.3,2.5,23],[-0.95,2.4,25],[-0.6,2.6,27],[-0.3,2.4,30],
  [1.06,5.5,19],[1.17,8.7,19],[1.19,7.8,19],[1.16,6.8,19],[1.21,5.9,19],[1.23,4.0,19],[1.24,13.3,18],[1.23,11.7,18],[1.21,10.3,18],[1.55,26.7,16],[1.6,24.8,16],[1.58,21.5,16],[1.57,17.2,16],[1.6,15.6,16],[1.57,13.9,16],[1.75,24.3,18],[1.76,22.6,18],[1.76,21.0,18],[1.75,19.9,18],[1.77,18.8,18],[1.76,17.2,18],[1.83,16.6,18],[1.86,15.5,18],[1.84,14.4,18],[1.88,12.2,18],[1.79,13.3,18],[1.76,8.4,18],[1.76,6.8,18],[1.77,5.7,18],[1.75,4.6,18],[1.76,3.5,18],[1.79,2.2,18],
];

const lagData = [lag0, lag1, lag2, lag3, lag4, lag5, lag6, lag7, lag8];
const lagNames = ["Lag 0", "Lag 1", "Lag 2", "Lag 3", "Lag 4", "Lag 5", "Lag 6", "Lag 7", "Lag 8"];
const betas = [-4.39, -4.13, -3.14, -1.39, 0.92, 3.21, 4.68, 4.82, 4.57];
const intercepts = [3.9, 4.2, 4.4, 4.55, 4.8, 4.9, 5.6, 5.6, 5.2];
const xTicks = [-2, -1, 0, 1, 2];
const xMinor = [-1.5, -0.5, 0.5, 1.5];
const yTicks = [0, 10, 20];
const yMinor = [-5, 5, 15, 25];
const weekTicks = [10, 15, 20, 25, 30];

const font = "'Liberation Sans', Arial, Helvetica, sans-serif";
const panelLeft = 54.5;
const panelW = 208.5;
const colStep = 218;
const topY = 8.3;
const stripH = 27.4;
const panelH = 102.6;
const rowStep = 140;
const gridCol = "#EBEBEB";

const x = d3.scaleLinear().domain([-2.166, 2.046]).range([0, panelW]);
const y = d3.scaleLinear().domain([-5.44, 28.2]).range([panelH, 0]);
const color = d3.scaleSequential((t) => d3.interpolateInferno(0.9 * (1 - t))).domain([8, 33]);
const legendY = d3.scaleLinear().domain([8, 33]).range([194.5, 288]);

const fmtBeta = (b: number) => `β = ${b < 0 ? "−" : ""}${Math.abs(b).toFixed(2)}`;

const Panel = ({ idx }: { idx: number }) => {
  const col = idx % 3;
  const row = Math.floor(idx / 3);
  const left = panelLeft + col * colStep;
  const sTop = topY + row * rowStep;
  const pTop = sTop + stripH;
  const pts = lagData[idx];
  const xs = d3.extent(pts, (d) => d[0]) as [number, number];
  const fit = (v: number) => intercepts[idx] + betas[idx] * v;
  const line = d3
    .line<number>()
    .x((v) => x(v))
    .y((v) => y(fit(v)));
  const bottomRow = row === 2;
  const leftCol = col === 0;

  return (
    <g>
      <rect x={left} y={sTop} width={panelW} height={stripH} fill="#D9D9D9" stroke="#333333" strokeWidth={1.1} />
      <text x={left + panelW / 2} y={sTop + stripH / 2} dy="0.36em" textAnchor="middle" fontSize={13.9} fill="#1A1A1A">
        {lagNames[idx]}
      </text>
      <g transform={`translate(${left},${pTop})`}>
        <rect width={panelW} height={panelH} fill="white" />
        {xMinor.map((v) => (
          <line key={"xm" + v} x1={x(v)} x2={x(v)} y1={0} y2={panelH} stroke={gridCol} strokeWidth={0.8} />
        ))}
        {yMinor.map((v) => (
          <line key={"ym" + v} x1={0} x2={panelW} y1={y(v)} y2={y(v)} stroke={gridCol} strokeWidth={0.8} />
        ))}
        {xTicks.map((v) => (
          <line key={"xg" + v} x1={x(v)} x2={x(v)} y1={0} y2={panelH} stroke={gridCol} strokeWidth={1.6} />
        ))}
        {yTicks.map((v) => (
          <line key={"yg" + v} x1={0} x2={panelW} y1={y(v)} y2={y(v)} stroke={gridCol} strokeWidth={1.6} />
        ))}
        {pts.map((d, i) => (
          <circle key={i} cx={x(d[0])} cy={y(d[1])} r={2.4} fill={color(d[2])} />
        ))}
        <path d={line(xs) || ""} fill="none" stroke="#BEBEBE" strokeWidth={1.8} />
        <text x={x(0)} y={y(15)} dy="0.36em" textAnchor="middle" fontSize={15} fill="black">
          {fmtBeta(betas[idx])}
        </text>
        <rect width={panelW} height={panelH} fill="none" stroke="#333333" strokeWidth={1.1} />
        {bottomRow &&
          xTicks.map((v) => (
            <g key={"xt" + v}>
              <line x1={x(v)} x2={x(v)} y1={panelH} y2={panelH + 3.7} stroke="#333333" strokeWidth={1.1} />
              <text x={x(v)} y={panelH + 20.8} textAnchor="middle" fontSize={13.6} fill="#4D4D4D">
                {v < 0 ? `−${Math.abs(v)}` : v}
              </text>
            </g>
          ))}
        {leftCol &&
          yTicks.map((v) => (
            <g key={"yt" + v}>
              <line x1={-3.7} x2={0} y1={y(v)} y2={y(v)} stroke="#333333" strokeWidth={1.1} />
              <text x={-5.3} y={y(v)} dy="0.36em" textAnchor="end" fontSize={13.9} fill="#4D4D4D">
                {v}
              </text>
            </g>
          ))}
      </g>
    </g>
  );
};

const Legend = () => {
  const barX = 726;
  const barW = 19.7;
  const [y0, y1] = legendY.range();
  const stops = d3.range(0, 1.0001, 0.05);
  return (
    <g>
      <defs>
        <linearGradient id="weekGrad" x1="0" y1="0" x2="0" y2="1">
          {stops.map((t) => (
            <stop key={t} offset={t} stopColor={color(8 + t * 25)} />
          ))}
        </linearGradient>
      </defs>
      <text x={726.5} y={184} fontSize={17.2} fill="black">
        week
      </text>
      <rect x={barX} y={y0} width={barW} height={y1 - y0} fill="url(#weekGrad)" />
      {weekTicks.map((w) => (
        <g key={w}>
          <line x1={barX} x2={barX + 4} y1={legendY(w)} y2={legendY(w)} stroke="white" strokeWidth={1} />
          <line x1={barX + barW - 4} x2={barX + barW} y1={legendY(w)} y2={legendY(w)} stroke="white" strokeWidth={1} />
          <text x={754} y={legendY(w)} dy="0.36em" fontSize={13.9} fill="black">
            {w}
          </text>
        </g>
      ))}
    </g>
  );
};

export default function App() {
  return (
    <svg
      width={787}
      height={472}
      style={{ position: "absolute", left: 0, top: 0, background: "white" }}
      fontFamily={font}
    >
      <rect width={787} height={472} fill="white" />
      {lagData.map((_, i) => (
        <Panel key={i} idx={i} />
      ))}
      <text x={376.8} y={458.5} textAnchor="middle" fontSize={17.3} fill="black">
        change in Google mobility index
      </text>
      <text transform="translate(21.7,213) rotate(-90)" textAnchor="middle" fontSize={17.3} fill="black">
        excess mortality rate
      </text>
      <Legend />
    </svg>
  );
}
